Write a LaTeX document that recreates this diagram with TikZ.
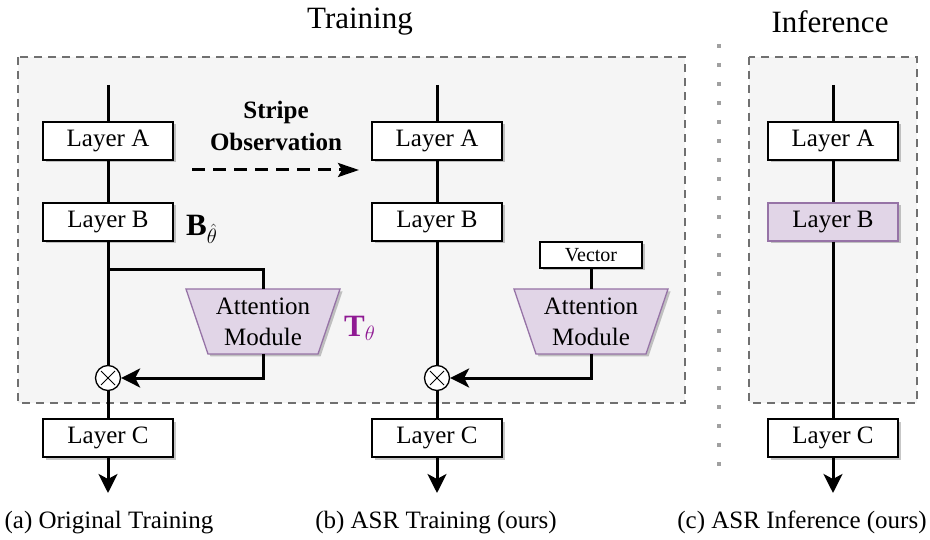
\documentclass[tikz,border=0pt]{standalone}
\usepackage{fontspec}
\setmainfont{Liberation Serif}
\usetikzlibrary{shadows,arrows.meta}
\definecolor{bgfill}{HTML}{F5F5F5}
\definecolor{bgdraw}{HTML}{707070}
\definecolor{purfill}{HTML}{E1D5E7}
\definecolor{purdraw}{HTML}{9673A6}
\definecolor{tcol}{HTML}{8F1A93}
\definecolor{dotcol}{HTML}{A0A0A0}
\begin{document}
\begin{tikzpicture}[x=1pt,y=-1pt,
  shad/.style={drop shadow={shadow xshift=2.5pt,shadow yshift=-2.5pt,fill=black,opacity=0.22}},
  layerbox/.style={draw=black,line width=1.3pt,fill=white,minimum width=130pt,minimum height=38pt,inner sep=0pt,font=\fontsize{25}{30}\selectfont,shad},
  purbox/.style={layerbox,draw=purdraw,fill=purfill},
  vecbox/.style={draw=black,line width=1.3pt,fill=white,minimum width=102pt,minimum height=26pt,inner sep=0pt,font=\fontsize{20}{24}\selectfont,shad},
  trap/.style={draw=purdraw,fill=purfill,line width=1.3pt,shad},
  atttext/.style={align=center,font=\fontsize{25}{31}\selectfont,inner sep=0pt},
  mulnode/.style={circle,draw=black,line width=1.3pt,fill=white,minimum size=25pt,inner sep=0pt},
  flow/.style={line width=3pt,draw=black},
  arrowend/.style={-{Stealth[length=19pt,width=19pt,inset=5pt]}},
  bgbox/.style={fill=bgfill,draw=bgdraw,line width=2pt,dash pattern=on 8pt off 6pt},
  plain/.style={font=\fontsize{25}{30}\selectfont,inner sep=0pt},
  titletext/.style={font=\fontsize{31}{36}\selectfont,inner sep=0pt},
]
\useasboundingbox (0,0) rectangle (930,540);

% backgrounds
\path[bgbox] (18,57) rectangle (685,403);
\path[bgbox] (749,57) rectangle (917,403);
\coordinate (dtop) at (719,44);
\coordinate (dbot) at (719,466);
\draw[dotcol,line width=4pt,dash pattern=on 4pt off 15pt] (dtop) -- (dbot);

% titles
\node[titletext] (ttrain) at (360,22) {Training};
\node[titletext] (tinf) at (830,22) {Inference};

% ---------- column a ----------
\coordinate (tpa) at (108,85);
\node[layerbox] (laa) at (108,141) {Layer A};
\node[layerbox] (lba) at (108,222) {Layer B};
\node[mulnode] (mula) at (108,378) {};
\draw[line width=0.9pt] (mula.center) ++(-7,-7) -- ++(14,14);
\draw[line width=0.9pt] (mula.center) ++(-7,7) -- ++(14,-14);
\node[layerbox] (lca) at (108,438) {Layer C};
\coordinate (eda) at (108,493);
\coordinate (bra) at (108,270);
\path[trap] (186,289) -- (340,289) -- (318,354) -- (208,354) -- cycle;
\coordinate (attat) at (263,289);
\coordinate (attab) at (263,354);
\node[atttext] (atta) at (263,322) {Attention\\Module};
\node[inner sep=0pt,font=\fontsize{31}{32}\selectfont,anchor=base west] (bth) at (186,236) {\textbf{B}\raisebox{-0.25em}{\fontsize{22}{22}\selectfont$\hat{\theta}$}};
\node[inner sep=0pt,text=tcol,font=\fontsize{31}{32}\selectfont,anchor=base west] (tth) at (344,337) {\textbf{T}\raisebox{-0.1em}{\fontsize{22}{22}\selectfont$\theta$}};

\draw[flow] (tpa) -- (laa);
\draw[flow] (laa) -- (lba);
\draw[flow] (lba) -- (mula);
\draw[flow] (mula) -- (lca);
\draw[flow,arrowend] (lca) -- (eda);
\draw[flow] (bra) -| (attat);
\draw[flow,arrowend] (attab) |- (mula);

% stripe observation
\node[inner sep=0pt,align=center,font=\fontsize{25}{32}\selectfont\bfseries] (stripe) at (276,126) {Stripe\\Observation};
\coordinate (sa) at (192,170);
\coordinate (sb) at (359,170);
\draw[line width=3pt,dash pattern=on 13pt off 8pt,-{Stealth[length=21pt,width=14pt,inset=4pt]}] (sa) -- (sb);

% ---------- column b ----------
\coordinate (tpb) at (437,85);
\node[layerbox] (lab) at (437,141) {Layer A};
\node[layerbox] (lbb) at (437,222) {Layer B};
\node[mulnode] (mulb) at (437,378) {};
\draw[line width=0.9pt] (mulb.center) ++(-7,-7) -- ++(14,14);
\draw[line width=0.9pt] (mulb.center) ++(-7,7) -- ++(14,-14);
\node[layerbox] (lcb) at (437,438) {Layer C};
\coordinate (edb) at (437,493);
\node[vecbox] (vec) at (591,255) {Vector};
\path[trap] (514,289) -- (668,289) -- (646,354) -- (536,354) -- cycle;
\coordinate (attbt) at (591,289);
\coordinate (attbb) at (591,354);
\node[atttext] (attb) at (591,322) {Attention\\Module};

\draw[flow] (tpb) -- (lab);
\draw[flow] (lab) -- (lbb);
\draw[flow] (lbb) -- (mulb);
\draw[flow] (mulb) -- (lcb);
\draw[flow,arrowend] (lcb) -- (edb);
\draw[flow] (vec) -- (attbt);
\draw[flow,arrowend] (attbb) |- (mulb);

% ---------- column c ----------
\coordinate (tpc) at (833,85);
\node[layerbox] (lac) at (833,141) {Layer A};
\node[purbox] (lbc) at (833,222) {Layer B};
\node[layerbox] (lcc) at (833,438) {Layer C};
\coordinate (edc) at (833,493);
\draw[flow] (tpc) -- (lac);
\draw[flow] (lac) -- (lbc);
\draw[flow] (lbc) -- (lcc);
\draw[flow,arrowend] (lcc) -- (edc);

% captions
\node[plain,anchor=base] (capa) at (109,528) {(a) Original Training};
\node[plain,anchor=base] (capb) at (436,528) {(b) ASR Training (ours)};
\node[plain,anchor=base] (capc) at (802,528) {(c) ASR Inference (ours)};
\end{tikzpicture}
\end{document}
